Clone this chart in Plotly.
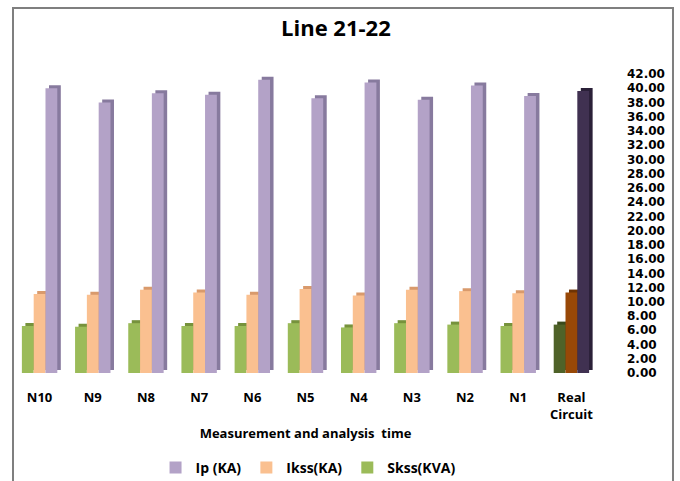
import plotly.graph_objects as go

# Measurement points along line 21-22
categories = ["N10", "N9", "N8", "N7", "N6", "N5", "N4", "N3", "N2", "N1", "Real Circuit"]
tick_labels = ["N10", "N9", "N8", "N7", "N6", "N5", "N4", "N3", "N2", "N1", "Real<br>Circuit"]

# Series values
ip_ka = [40.0, 38.0, 39.3, 39.1, 41.2, 38.6, 40.8, 38.4, 40.4, 38.9, 39.6]
ikss_ka = [11.1, 11.0, 11.7, 11.3, 11.0, 11.8, 10.9, 11.7, 11.5, 11.2, 11.3]
skss_kva = [6.6, 6.5, 7.0, 6.6, 6.6, 7.0, 6.4, 7.0, 6.8, 6.6, 6.8]

n = len(categories)

# Face colours (last bar = real circuit, darker shade) and depth colours
series = [
    dict(name="Skss(KVA)", y=skss_kva, face="#9BBB59", real="#4F6228",
         depth="#76923C", real_depth="#3A4A1C", offset=-0.333),
    dict(name="Ikss(KA)", y=ikss_ka, face="#FAC090", real="#984807",
         depth="#D99A6C", real_depth="#6E3405", offset=-0.111),
    dict(name="Ip (KA)", y=ip_ka, face="#B3A2C7", real="#403151",
         depth="#877A9E", real_depth="#2A2038", offset=0.111),
]

bar_w = 0.222
depth_dx = 0.066   # horizontal depth shift (category units)
depth_dy = 0.42    # vertical depth shift (value units)

fig = go.Figure()

# Depth faces drawn behind the front faces for a 3-D look
for s in series:
    fig.add_trace(go.Bar(
        x=categories, y=s["y"], base=depth_dy,
        width=bar_w, offset=s["offset"] + depth_dx,
        marker=dict(color=[s["depth"]] * (n - 1) + [s["real_depth"]], line=dict(width=0)),
        showlegend=False, hoverinfo="skip",
    ))

# Front faces
for s in series:
    fig.add_trace(go.Bar(
        x=categories, y=s["y"], name=s["name"],
        width=bar_w, offset=s["offset"],
        marker=dict(color=[s["face"]] * (n - 1) + [s["real"]], line=dict(width=0)),
    ))

fig.update_layout(
    width=680, height=481,
    margin=dict(l=13, r=82, t=74, b=108),
    paper_bgcolor="white", plot_bgcolor="white",
    barmode="overlay",
    font=dict(family="Open Sans", size=13, color="black"),
    title=dict(
        text="Line 21-22",
        font=dict(family="Open Sans", size=22, color="black", weight="bold"),
        x=0.494, xanchor="center", xref="container",
        y=1 - 28 / 481, yanchor="middle", yref="container",
    ),
    legend=dict(
        orientation="h", traceorder="reversed",
        x=0.453, xanchor="center", xref="container",
        y=1 - 468 / 481, yanchor="middle", yref="container",
        font=dict(family="Open Sans", size=14, color="black", weight="bold"),
        bgcolor="rgba(0,0,0,0)",
    ),
    xaxis=dict(
        type="category", range=[-0.5, n - 0.5], automargin=False,
        tickmode="array", tickvals=categories, ticktext=tick_labels,
        tickfont=dict(family="Open Sans", size=13, color="black", weight="bold"),
        showgrid=False, zeroline=False, showline=False, ticks="",
        ticklabelstandoff=15,
        title=dict(text="Measurement and analysis  time",
                   font=dict(family="Open Sans", size=13, color="black", weight="bold"),
                   standoff=6),
    ),
    yaxis=dict(
        side="right", range=[0, 42], dtick=2, tick0=0, tickformat=".2f", automargin=False,
        tickfont=dict(family="DejaVu Sans", size=12, color="black", weight="bold"),
        showgrid=False, zeroline=False, showline=False, ticks="",
        ticklabelstandoff=28,
    ),
    shapes=[dict(
        type="rect", xref="paper", yref="paper",
        x0=0.0, x1=1.1282, y0=-0.40, y1=1.2207,
        line=dict(color="#7F7F7F", width=2), fillcolor="rgba(0,0,0,0)", layer="below",
    )],
)

fig.write_html("out.html")
